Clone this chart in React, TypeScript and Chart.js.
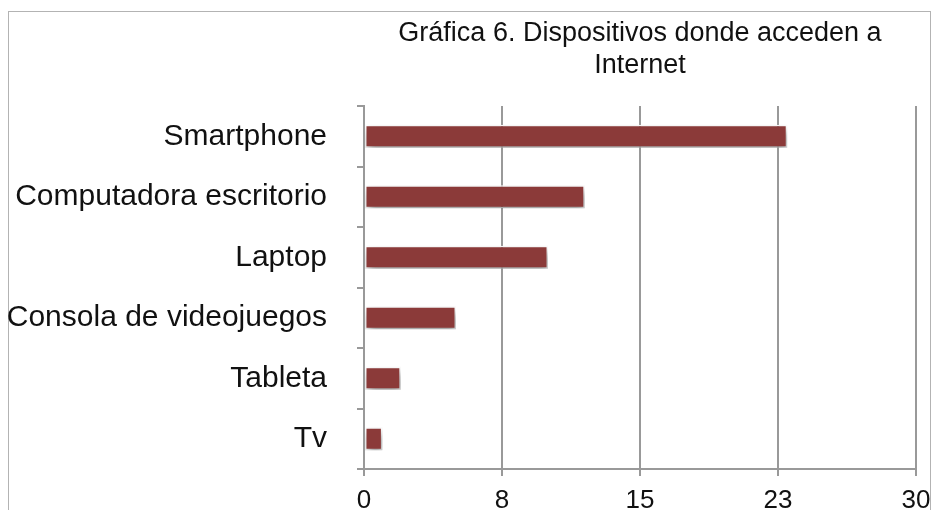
import React, { useEffect, useRef } from "react";
import { Chart, registerables } from "chart.js";

Chart.register(...registerables);

const categories = [
  "Smartphone",
  "Computadora escritorio",
  "Laptop",
  "Consola de videojuegos",
  "Tableta",
  "Tv",
];
const values = [23, 12, 10, 5, 2, 1];
const titleLines = ["Gráfica 6. Dispositivos donde acceden a", "Internet"];
const xMin = 0;
const xMax = 30;
const xStep = 7.5;

const FONT = "'Liberation Sans', Arial, Helvetica, sans-serif";

export default function App() {
  const ref = useRef<HTMLCanvasElement | null>(null);

  useEffect(() => {
    const canvas = ref.current;
    if (!canvas) return;

    const framePlugin = {
      id: "frame",
      beforeDraw(chart: any) {
        const ctx = chart.ctx;
        ctx.save();
        ctx.fillStyle = "#ffffff";
        ctx.fillRect(0, 0, chart.width, chart.height);
        ctx.strokeStyle = "#b3b3b3";
        ctx.lineWidth = 1;
        ctx.strokeRect(8.5, 11.5, chart.width - 10, chart.height + 20);
        ctx.restore();
      },
      afterDraw(chart: any) {
        const ctx = chart.ctx;
        const area = chart.chartArea;
        ctx.save();
        ctx.fillStyle = "#111111";
        ctx.font = `27px ${FONT}`;
        ctx.textAlign = "center";
        ctx.textBaseline = "alphabetic";
        const cx = (area.left + area.right) / 2;
        titleLines.forEach((t, i) => {
          ctx.fillText(t, cx, 41 + i * 32);
        });
        ctx.restore();
      },
    };

    const shadowPlugin = {
      id: "barShadow",
      beforeDatasetsDraw(chart: any) {
        const ctx = chart.ctx;
        ctx.save();
        ctx.shadowColor = "rgba(0,0,0,0.4)";
        ctx.shadowBlur = 8;
        ctx.shadowOffsetX = 2;
        ctx.shadowOffsetY = 5;
      },
      afterDatasetsDraw(chart: any) {
        chart.ctx.restore();
      },
    };

    const chart = new Chart(canvas, {
      type: "bar",
      data: {
        labels: categories,
        datasets: [
          {
            data: values,
            backgroundColor: "#8b3a39",
            borderColor: "#ffffff",
            borderWidth: 1.5,
            borderSkipped: false,
            categoryPercentage: 1,
            barPercentage: 0.38,
          },
        ],
      },
      options: {
        indexAxis: "y",
        responsive: false,
        animation: false,
        layout: { padding: { top: 106, right: 16, left: 0, bottom: 0 } },
        plugins: {
          legend: { display: false },
          title: { display: false },
          tooltip: { enabled: false },
        },
        scales: {
          x: {
            type: "linear",
            min: xMin,
            max: xMax,
            afterFit: (s: any) => {
              s.height = 41;
              s.paddingLeft = 0;
              s.paddingRight = 0;
            },
            ticks: {
              stepSize: xStep,
              color: "#111111",
              font: { size: 26, family: FONT },
              padding: 9,
              maxRotation: 0,
              callback: (v: any) => String(Math.round(Number(v))),
            },
            grid: {
              color: "#999999",
              lineWidth: 2,
              drawTicks: true,
              tickLength: 7,
            },
            border: { color: "#999999", width: 2 },
          },
          y: {
            type: "category",
            offset: true,
            afterFit: (s: any) => {
              s.width = 364;
              s.paddingTop = 0;
              s.paddingBottom = 0;
            },
            ticks: {
              color: "#111111",
              font: { size: 30, family: FONT },
              padding: 30,
            },
            grid: {
              offset: true,
              drawOnChartArea: false,
              drawTicks: true,
              tickLength: 7,
              color: "#999999",
              lineWidth: 2,
            },
            border: { color: "#999999", width: 2 },
          },
        },
      },
      plugins: [framePlugin, shadowPlugin],
    });

    return () => chart.destroy();
  }, []);

  return (
    <div style={{ position: "absolute", left: 0, top: 0, width: 932, height: 510 }}>
      <canvas ref={ref} width={932} height={510} style={{ display: "block" }} />
    </div>
  );
}
